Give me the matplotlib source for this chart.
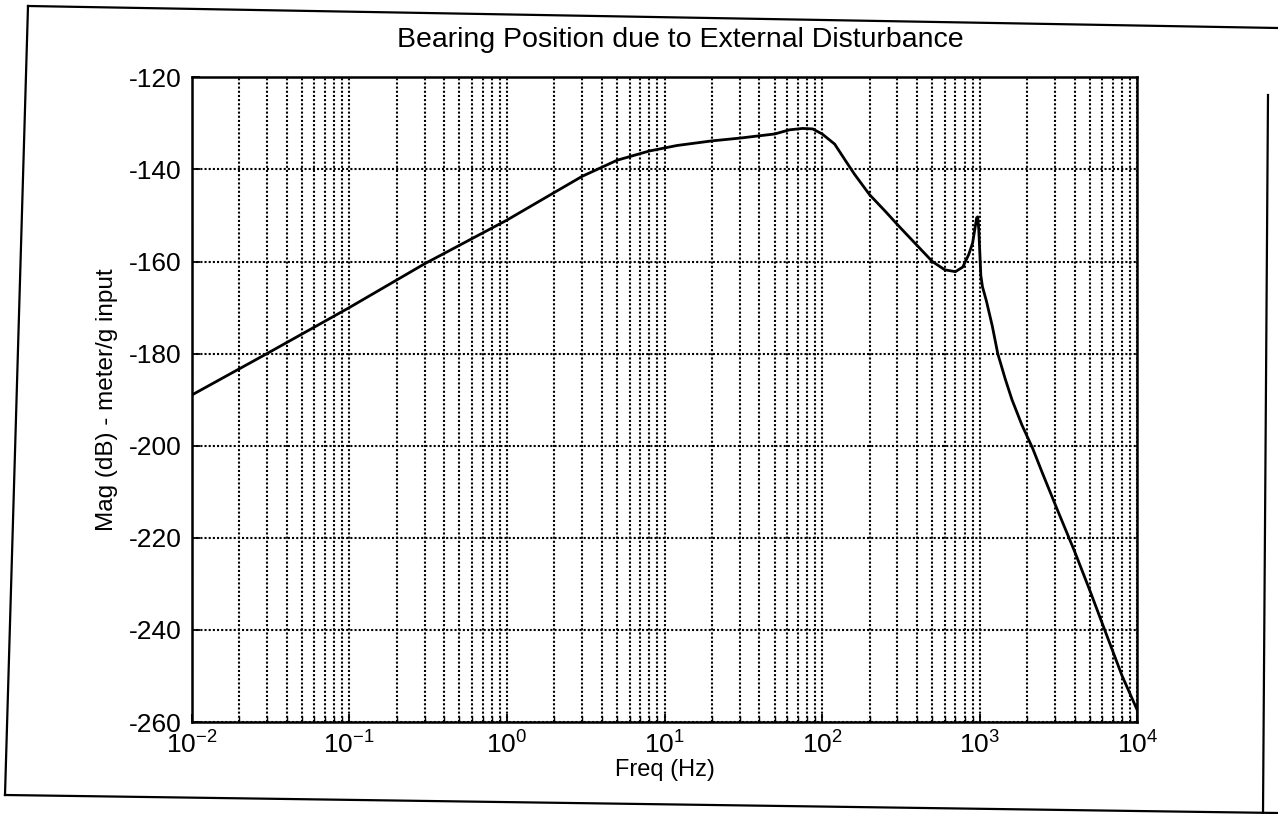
import matplotlib
matplotlib.use("Agg")
import matplotlib.pyplot as plt
from matplotlib.lines import Line2D
import numpy as np

plt.rcParams['font.family'] = ['Liberation Sans', 'DejaVu Sans']
plt.rcParams['axes.unicode_minus'] = False

# values
freq_hz = [0.01, 0.03, 0.1, 0.3, 1, 2, 3, 5, 8, 12, 20, 30, 50, 62, 75, 87,
           100, 120, 140, 160, 200, 250, 310, 400, 500, 600, 700, 780, 850,
           900, 930, 955, 970, 985, 1000, 1015, 1040, 1100, 1200, 1300, 1450,
           1600, 1850, 2160, 2500, 3070, 4000, 5000, 6200, 8000, 10000]
mag_db = [-189, -180, -170, -160.5, -151, -145, -141.5, -138, -136, -134.8,
          -133.8, -133.2, -132.3, -131.4, -131.1, -131.2, -132.3, -134.5,
          -138, -141, -145.5, -149, -152.5, -156.5, -160, -161.8, -162.2,
          -161.2, -158.5, -156, -153, -150.5, -150.3, -153, -158, -163,
          -165.5, -168.5, -174, -180, -185.5, -190, -195.5, -200.5, -206,
          -213.5, -223, -231.5, -240, -250, -257.5]
y_ticks = [-260, -240, -220, -200, -180, -160, -140, -120]

fig = plt.figure(figsize=(12.78, 8.14), dpi=100)
ax = fig.add_axes([0.150, 0.113, 0.740, 0.792])

ax.semilogx(freq_hz, mag_db, color='black', linewidth=2.0)
ax.set_xlim(1e-2, 1e4)
ax.set_ylim(-260, -120)
ax.set_yticks(y_ticks)

grid_style = dict(linestyle=(0, (1, 1)), color='black', linewidth=1.5)
ax.grid(True, which='major', **grid_style)
ax.grid(True, which='minor', axis='x', **grid_style)
ax.tick_params(which='both', direction='in', labelsize=19, top=False, right=False)
ax.tick_params(which='major', length=6, width=1.3, pad=7)
ax.tick_params(which='minor', length=4, width=1.0)
for s in ax.spines.values():
    s.set_linewidth(1.8)

fig.text(680 / 1278, 1 - 40 / 814, "Bearing Position due to External Disturbance",
         fontsize=20.5, ha='center', va='center')
ax.set_xlabel("Freq (Hz)", fontsize=17, labelpad=0)
ax.set_ylabel("Mag (dB) - meter/g input", fontsize=17.5, labelpad=8)

# outer frame of the scanned page (slightly skewed)
frame = [((28, 6), (1278, 28)), ((5, 795), (1278, 813)),
         ((28, 6), (5, 795)), ((1268, 95), (1263, 814))]
for (x0, y0), (x1, y1) in frame:
    fig.add_artist(Line2D([x0 / 1278, x1 / 1278], [1 - y0 / 814, 1 - y1 / 814],
                          transform=fig.transFigure, color='black', linewidth=1.6))

fig.savefig("out.png", dpi=100)
